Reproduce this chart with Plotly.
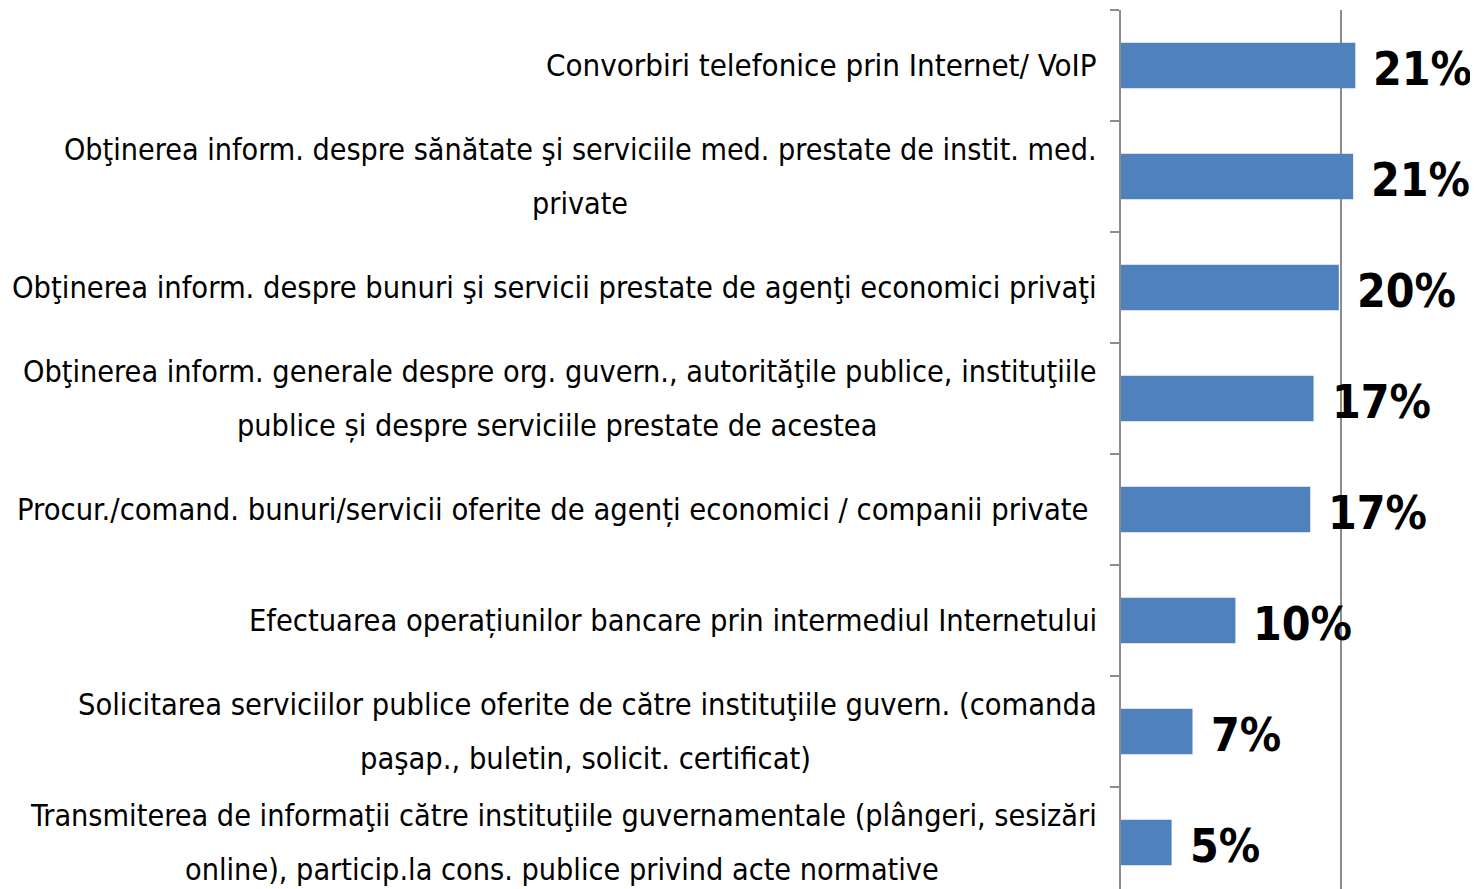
import plotly.graph_objects as go

# Data
categories = [
    "Convorbiri telefonice prin Internet/ VoIP",
    "Obţinerea inform. despre sănătate şi serviciile med. prestate de instit. med. private",
    "Obţinerea inform. despre bunuri şi servicii prestate de agenţi economici privaţi",
    "Obţinerea inform. generale despre org. guvern., autorităţile publice, instituţiile publice și despre serviciile prestate de acestea",
    "Procur./comand. bunuri/servicii oferite de agenți economici / companii private",
    "Efectuarea operațiunilor bancare prin intermediul Internetului",
    "Solicitarea serviciilor publice oferite de către instituţiile guvern. (comanda paşap., buletin, solicit. certificat)",
    "Transmiterea de informaţii către instituţiile guvernamentale (plângeri, sesizări online), particip.la cons. publice privind acte normative",
]
label_line1 = [
    "Convorbiri telefonice prin Internet/ VoIP",
    "Obţinerea inform. despre sănătate şi serviciile med. prestate de instit. med.",
    "Obţinerea inform. despre bunuri şi servicii prestate de agenţi economici privaţi",
    "Obţinerea inform. generale despre org. guvern., autorităţile publice, instituţiile",
    "Procur./comand. bunuri/servicii oferite de agenți economici / companii private",
    "Efectuarea operațiunilor bancare prin intermediul Internetului",
    "Solicitarea serviciilor publice oferite de către instituţiile guvern. (comanda",
    "Transmiterea de informaţii către instituţiile guvernamentale (plângeri, sesizări",
]
label_line2 = [
    "",
    "private",
    "",
    "publice și despre serviciile prestate de acestea",
    "",
    "",
    "paşap., buletin, solicit. certificat)",
    "online), particip.la cons. publice privind acte normative",
]
values = [21.3, 21.1, 19.8, 17.5, 17.2, 10.4, 6.5, 4.6]
value_labels = ["21%", "21%", "20%", "17%", "17%", "10%", "7%", "5%"]

# layout helpers (pixel offsets of label text relative to plot left edge, font sizes)
line2_center_shift = [0, -541, 0, -564, 0, 0, -536, -559]
line1_right_shift = [-22, -22, -22, -22, -31, -22, -22, -22]
label_size = [31, 30.2, 30.5, 30.3, 30.6, 30.5, 30.5, 30.3]

FONT = "Liberation Sans Narrow, Arial Narrow, DejaVu Sans Condensed, sans-serif"
BLUE = "#4F81BD"
GRAY = "#8C8C8C"

fig = go.Figure()
fig.add_trace(go.Bar(
    x=values, y=categories, orientation="h",
    marker=dict(color=BLUE, line=dict(width=0)),
    width=0.41, hoverinfo="skip",
))

ann = []
for i, cat in enumerate(categories):
    two = bool(label_line2[i])
    ann.append(dict(
        x=0, xref="paper", y=cat, yref="y",
        text=label_line1[i], showarrow=False,
        xanchor="right", yanchor="middle",
        xshift=line1_right_shift[i], yshift=(27 if two else 0),
        font=dict(family=FONT, size=label_size[i], color="black"),
    ))
    if two:
        ann.append(dict(
            x=0, xref="paper", y=cat, yref="y",
            text=label_line2[i], showarrow=False,
            xanchor="center", yanchor="middle",
            xshift=line2_center_shift[i], yshift=-27,
            font=dict(family=FONT, size=label_size[i], color="black"),
        ))
    ann.append(dict(
        x=values[i], xref="x", y=cat, yref="y",
        text=value_labels[i], showarrow=False,
        xanchor="left", yanchor="middle",
        xshift=16, yshift=-4,
        font=dict(family=FONT, size=46, color="black", weight="bold"),
    ))

fig.update_layout(
    width=1470, height=881,
    margin=dict(l=1113, r=0, t=2, b=0),
    paper_bgcolor="white", plot_bgcolor="white",
    showlegend=False,
    annotations=ann,
    xaxis=dict(
        range=[0, 32.45], dtick=20, showgrid=True, gridcolor=GRAY, gridwidth=1.5,
        zeroline=False, showticklabels=False, showline=False, fixedrange=True,
    ),
    yaxis=dict(
        categoryorder="array", categoryarray=categories,
        range=[7.42, -0.5], showticklabels=False,
        showline=True, linecolor=GRAY, linewidth=2,
        ticks="outside", tickson="boundaries", ticklen=9, tickcolor=GRAY, tickwidth=1.5,
        showgrid=False, zeroline=False, fixedrange=True,
    ),
)

fig.write_html("out.html")
